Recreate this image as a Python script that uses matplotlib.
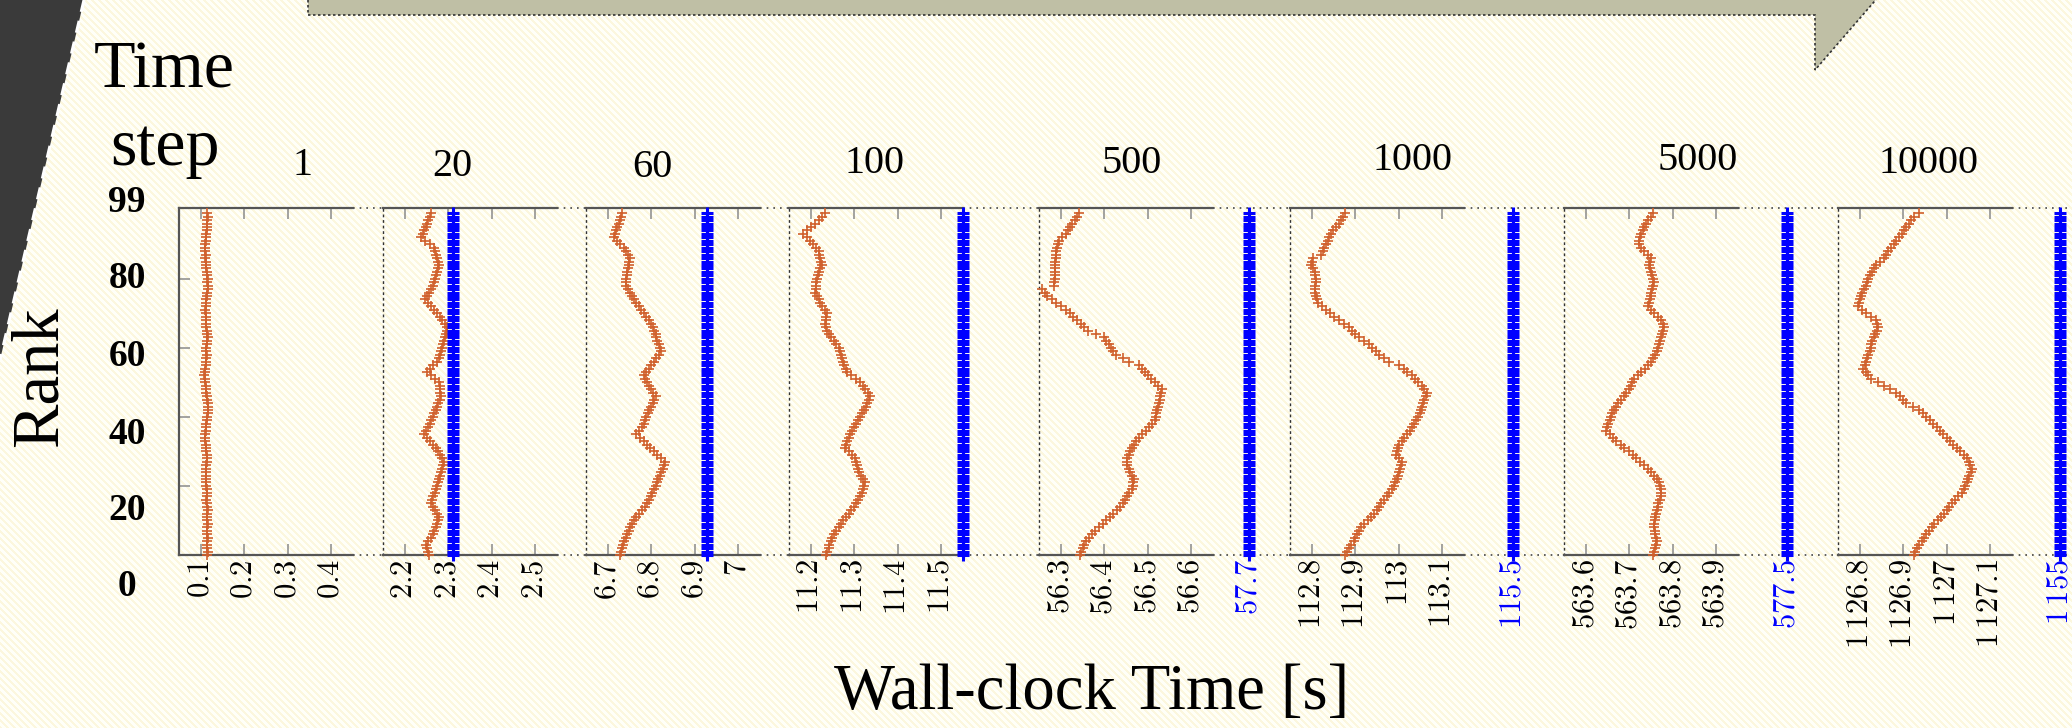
import numpy as np
import matplotlib
matplotlib.use('Agg')
import matplotlib.pyplot as plt
from matplotlib.patches import Polygon

plt.rcParams['mathtext.fontset'] = 'cm'
plt.rcParams['font.family'] = ['Liberation Serif', 'DejaVu Serif']

ranks = np.arange(100)
steps = ['1', '20', '60', '100', '500', '1000', '5000', '10000']

# wall-clock time reached by every rank at the given time step [s]
t_step1 = [0.115, 0.116, 0.115, 0.114, 0.115, 0.116, 0.115, 0.114, 0.115, 0.116,
           0.115, 0.114, 0.115, 0.116, 0.115, 0.114, 0.113, 0.114, 0.115, 0.114,
           0.113, 0.112, 0.113, 0.112, 0.111, 0.112, 0.113, 0.114, 0.115, 0.114,
           0.113, 0.112, 0.111, 0.110, 0.109, 0.110, 0.111, 0.112, 0.113, 0.114,
           0.115, 0.116, 0.116, 0.117, 0.116, 0.115, 0.114, 0.113, 0.112, 0.111,
           0.110, 0.109, 0.108, 0.109, 0.110, 0.111, 0.112, 0.113, 0.114, 0.113,
           0.113, 0.114, 0.115, 0.116, 0.115, 0.114, 0.113, 0.112, 0.111, 0.112,
           0.111, 0.110, 0.111, 0.112, 0.113, 0.114, 0.115, 0.116, 0.116, 0.115,
           0.116, 0.115, 0.114, 0.113, 0.112, 0.111, 0.110, 0.111, 0.110, 0.109,
           0.110, 0.111, 0.112, 0.113, 0.114, 0.115, 0.114, 0.115, 0.116, 0.115]
t_step20 = [2.256, 2.253, 2.251, 2.249, 2.254, 2.260, 2.265, 2.268, 2.271, 2.274,
            2.277, 2.279, 2.274, 2.269, 2.264, 2.260, 2.263, 2.266, 2.269, 2.272,
            2.274, 2.276, 2.279, 2.281, 2.284, 2.286, 2.289, 2.291, 2.286, 2.281,
            2.276, 2.271, 2.264, 2.258, 2.251, 2.245, 2.249, 2.253, 2.257, 2.261,
            2.264, 2.267, 2.271, 2.274, 2.277, 2.280, 2.283, 2.282, 2.281, 2.280,
            2.279, 2.270, 2.261, 2.252, 2.259, 2.266, 2.273, 2.279, 2.281, 2.284,
            2.286, 2.289, 2.291, 2.293, 2.295, 2.296, 2.298, 2.292, 2.286, 2.281,
            2.275, 2.268, 2.261, 2.254, 2.247, 2.251, 2.256, 2.260, 2.264, 2.267,
            2.269, 2.272, 2.274, 2.277, 2.279, 2.277, 2.275, 2.272, 2.270, 2.268,
            2.258, 2.247, 2.237, 2.241, 2.244, 2.248, 2.251, 2.254, 2.257, 2.260]
t_step60 = [6.728, 6.731, 6.733, 6.736, 6.738, 6.741, 6.745, 6.749, 6.752, 6.756,
            6.760, 6.766, 6.772, 6.779, 6.785, 6.791, 6.795, 6.799, 6.802, 6.806,
            6.810, 6.813, 6.816, 6.820, 6.823, 6.826, 6.829, 6.831, 6.823, 6.814,
            6.806, 6.798, 6.791, 6.783, 6.774, 6.766, 6.772, 6.778, 6.783, 6.786,
            6.789, 6.792, 6.795, 6.799, 6.803, 6.806, 6.810, 6.805, 6.800, 6.795,
            6.790, 6.786, 6.783, 6.789, 6.794, 6.800, 6.806, 6.812, 6.817, 6.823,
            6.820, 6.817, 6.814, 6.812, 6.810, 6.807, 6.805, 6.799, 6.794, 6.788,
            6.783, 6.777, 6.771, 6.766, 6.760, 6.755, 6.751, 6.746, 6.742, 6.743,
            6.743, 6.744, 6.745, 6.747, 6.748, 6.750, 6.751, 6.746, 6.742, 6.737,
            6.729, 6.722, 6.714, 6.717, 6.719, 6.722, 6.725, 6.728, 6.730, 6.733]
t_step100 = [11.235, 11.238, 11.241, 11.243, 11.246, 11.249, 11.254, 11.259, 11.265, 11.270,
             11.275, 11.281, 11.287, 11.293, 11.299, 11.304, 11.308, 11.313, 11.318, 11.320,
             11.323, 11.325, 11.321, 11.316, 11.312, 11.308, 11.306, 11.304, 11.302, 11.294,
             11.287, 11.279, 11.281, 11.283, 11.287, 11.291, 11.295, 11.299, 11.304, 11.308,
             11.313, 11.318, 11.322, 11.326, 11.329, 11.333, 11.337, 11.331, 11.325, 11.320,
             11.314, 11.304, 11.293, 11.283, 11.280, 11.277, 11.274, 11.272, 11.269, 11.267,
             11.264, 11.258, 11.253, 11.247, 11.241, 11.238, 11.236, 11.233, 11.234, 11.236,
             11.237, 11.232, 11.227, 11.222, 11.218, 11.214, 11.210, 11.211, 11.212, 11.213,
             11.214, 11.217, 11.220, 11.222, 11.225, 11.223, 11.221, 11.220, 11.218, 11.212,
             11.205, 11.199, 11.191, 11.183, 11.192, 11.201, 11.210, 11.218, 11.225, 11.233]
t_step500 = [56.344, 56.347, 56.350, 56.353, 56.359, 56.366, 56.372, 56.379, 56.388, 56.396,
             56.405, 56.413, 56.421, 56.429, 56.437, 56.442, 56.447, 56.453, 56.458, 56.463,
             56.465, 56.466, 56.468, 56.464, 56.460, 56.457, 56.453, 56.453, 56.453, 56.456,
             56.460, 56.463, 56.468, 56.474, 56.479, 56.487, 56.495, 56.502, 56.509, 56.516,
             56.518, 56.520, 56.522, 56.524, 56.526, 56.528, 56.529, 56.531, 56.532, 56.524,
             56.516, 56.508, 56.500, 56.493, 56.486, 56.479, 56.458, 56.442, 56.426, 56.421,
             56.416, 56.411, 56.405, 56.400, 56.382, 56.363, 56.354, 56.346, 56.337, 56.329,
             56.321, 56.311, 56.300, 56.289, 56.279, 56.268, 56.263, 56.258, 56.284, 56.285,
             56.286, 56.287, 56.287, 56.287, 56.287, 56.287, 56.288, 56.288, 56.289, 56.291,
             56.293, 56.295, 56.303, 56.311, 56.316, 56.321, 56.327, 56.332, 56.337, 56.342]
t_step1000 = [112.877, 112.882, 112.886, 112.891, 112.896, 112.900, 112.905, 112.909, 112.914, 112.921,
              112.929, 112.936, 112.943, 112.949, 112.955, 112.960, 112.966, 112.972, 112.978, 112.984,
              112.988, 112.991, 112.995, 112.998, 113.000, 113.003, 113.005, 113.007, 113.000, 112.993,
              112.996, 112.998, 113.001, 113.007, 113.013, 113.019, 113.025, 113.030, 113.036, 113.040,
              113.044, 113.048, 113.051, 113.054, 113.056, 113.059, 113.062, 113.065, 113.059, 113.053,
              113.045, 113.038, 113.030, 113.020, 113.011, 113.001, 112.978, 112.966, 112.955, 112.947,
              112.939, 112.931, 112.920, 112.908, 112.900, 112.893, 112.885, 112.873, 112.862, 112.852,
              112.843, 112.833, 112.824, 112.815, 112.812, 112.810, 112.807, 112.808, 112.808, 112.809,
              112.809, 112.808, 112.807, 112.803, 112.798, 112.800, 112.803, 112.821, 112.825, 112.829,
              112.833, 112.837, 112.840, 112.844, 112.850, 112.856, 112.862, 112.867, 112.872, 112.877]
t_step5000 = [563.755, 563.757, 563.759, 563.761, 563.763, 563.762, 563.760, 563.759, 563.758, 563.757,
              563.759, 563.760, 563.762, 563.763, 563.765, 563.767, 563.770, 563.772, 563.774, 563.772,
              563.771, 563.769, 563.763, 563.757, 563.749, 563.742, 563.734, 563.725, 563.716, 563.708,
              563.699, 563.689, 563.680, 563.670, 563.662, 563.655, 563.647, 563.650, 563.652, 563.655,
              563.658, 563.661, 563.664, 563.670, 563.675, 563.681, 563.687, 563.693, 563.699, 563.703,
              563.706, 563.710, 563.719, 563.728, 563.736, 563.743, 563.751, 563.755, 563.759, 563.763,
              563.766, 563.769, 563.771, 563.774, 563.776, 563.778, 563.780, 563.777, 563.774, 563.766,
              563.757, 563.750, 563.743, 563.745, 563.747, 563.749, 563.751, 563.753, 563.755, 563.757,
              563.755, 563.753, 563.751, 563.748, 563.745, 563.748, 563.751, 563.743, 563.734, 563.728,
              563.722, 563.723, 563.724, 563.727, 563.731, 563.734, 563.739, 563.743, 563.749, 563.755]
t_step10000 = [1126.924, 1126.928, 1126.932, 1126.936, 1126.942, 1126.947, 1126.953, 1126.959, 1126.965, 1126.971,
               1126.979, 1126.986, 1126.994, 1127.000, 1127.006, 1127.012, 1127.020, 1127.027, 1127.035, 1127.039,
               1127.043, 1127.047, 1127.050, 1127.052, 1127.055, 1127.058, 1127.054, 1127.051, 1127.047, 1127.039,
               1127.031, 1127.023, 1127.015, 1127.008, 1127.000, 1126.992, 1126.985, 1126.977, 1126.969, 1126.961,
               1126.953, 1126.945, 1126.936, 1126.922, 1126.907, 1126.899, 1126.892, 1126.884, 1126.870, 1126.855,
               1126.841, 1126.826, 1126.820, 1126.814, 1126.808, 1126.811, 1126.814, 1126.817, 1126.820, 1126.823,
               1126.825, 1126.827, 1126.828, 1126.832, 1126.836, 1126.839, 1126.843, 1126.840, 1126.837, 1126.826,
               1126.814, 1126.806, 1126.797, 1126.799, 1126.800, 1126.802, 1126.806, 1126.810, 1126.814, 1126.817,
               1126.820, 1126.823, 1126.828, 1126.832, 1126.837, 1126.846, 1126.855, 1126.861, 1126.866, 1126.872,
               1126.878, 1126.884, 1126.890, 1126.896, 1126.901, 1126.907, 1126.913, 1126.918, 1126.924, 1126.936]
rank_time = [t_step1, t_step20, t_step60, t_step100, t_step500, t_step1000, t_step5000, t_step10000]

# slowest time per step (blue), None where it is not drawn
max_time = [None, 2.31, 6.929, 11.55, 57.7, 115.5, 577.5, 1155.0]
max_label = [None, None, None, None, '57.7', '115.5', '577.5', r'1\,155']

xlims = [(0.05, 0.45), (2.15, 2.55), (6.65, 7.05), (11.15, 11.55),
         (56.25, 56.65), (112.75, 113.15), (563.55, 563.95), (1126.75, 1127.15)]
xticks = [[0.1, 0.2, 0.3, 0.4], [2.2, 2.3, 2.4, 2.5], [6.7, 6.8, 6.9, 7.0],
          [11.2, 11.3, 11.4, 11.5], [56.3, 56.4, 56.5, 56.6], [112.8, 112.9, 113.0, 113.1],
          [563.6, 563.7, 563.8, 563.9], [1126.8, 1126.9, 1127.0, 1127.1]]
xticklabels = [['0.1', '0.2', '0.3', '0.4'], ['2.2', '2.3', '2.4', '2.5'],
               ['6.7', '6.8', '6.9', '7'], ['11.2', '11.3', '11.4', '11.5'],
               ['56.3', '56.4', '56.5', '56.6'], ['112.8', '112.9', '113', '113.1'],
               ['563.6', '563.7', '563.8', '563.9'],
               [r'1\,126.8', r'1\,126.9', r'1\,127', r'1\,127.1']]
rank_labels = ['99', '80', '60', '40', '20', '0']

orange = '#d0602c'
blue = '#0000ff'
tick_size = 22

W, H = 2072, 728
fig = plt.figure(figsize=(W / 100, H / 100), dpi=100)


def px(x0, y0, w, h):
    return [x0 / W, 1 - (y0 + h) / H, w / W, h / H]


# slide background: stripes, dark corner band, grey arrow
bg = fig.add_axes([0, 0, 1, 1], zorder=0)
bg.axis('off')
yy, xx = np.mgrid[0:H, 0:W]
stripe = ((xx - yy) % 7) < 3
img = np.where(stripe[..., None], np.array([252, 247, 222]) / 255, np.array([255, 255, 248]) / 255)
bg.imshow(img, extent=(0, W, H, 0), aspect='auto', interpolation='nearest')
bg.add_patch(Polygon([(0, 0), (84, 0), (0, 360)], closed=True, fc='#3a3a3a', ec='none'))
bg.plot([84, 0], [0, 360], color='white', lw=2.2, ls=(0, (4, 3)))
bg.add_patch(Polygon([(308, -5), (308, 15), (1815, 15), (1815, 70), (1880, -5)], closed=True,
                     fc='#bfbfa5', ec='#333333', lw=1.2, ls=(0, (1.5, 1.5))))
bg.set_xlim(0, W)
bg.set_ylim(H, 0)

top, height, width = 208, 347, 174
lefts = [179, 383, 586, 789, 1039, 1290, 1564, 1838]
blue_px = [None, None, None, None, 1249, 1513, 1787, 2060]

# dotted axis line through the breaks between panels
for i in range(len(lefts)):
    x0 = lefts[i] + width
    x1 = lefts[i + 1] if i + 1 < len(lefts) else W
    for y in (top, top + height):
        bg.plot([x0, x1], [y, y], color='#444444', lw=1.2, ls=(0, (1, 3)))

for i in range(len(steps)):
    ax = fig.add_axes(px(lefts[i], top, width, height), zorder=2)
    ax.set_facecolor('none')
    ax.plot(rank_time[i], ranks, ls='none', marker='+', ms=7.5, mew=1.2,
            color=orange, clip_on=False, zorder=3)
    if max_time[i] is not None and max_label[i] is None:
        ax.plot([max_time[i]] * len(ranks), ranks, ls='none', marker='+', ms=9, mew=2.2,
                color=blue, clip_on=False, zorder=4)
    ax.set_xlim(*xlims[i])
    ax.set_ylim(0, 100.5)
    ax.set_xticks(xticks[i])
    ax.set_xticklabels(['$' + s + '$' for s in xticklabels[i]])
    ax.tick_params(axis='x', direction='in', length=8, width=1.1, color='#8a8a8a',
                   top=True, pad=3, labelsize=tick_size, labelrotation=90)
    if i == 0:
        ax.set_yticks([20, 40, 60, 80])
    else:
        ax.set_yticks([])
    ax.tick_params(axis='y', direction='in', length=8, width=1.1, color='#8a8a8a',
                   labelleft=False)
    for s in ('top', 'bottom'):
        ax.spines[s].set_color('#555555')
        ax.spines[s].set_linewidth(1.6)
    ax.spines['right'].set_visible(False)
    if i == 0:
        ax.spines['left'].set_color('#555555')
        ax.spines['left'].set_linewidth(1.6)
    else:
        ax.spines['left'].set_color('#333333')
        ax.spines['left'].set_linewidth(1.0)
        ax.spines['left'].set_linestyle((0, (1, 3)))

    # broken-axis column holding the slowest time
    if max_label[i] is not None:
        v = max_time[i]
        bx = fig.add_axes(px(blue_px[i] - 10, top, 20, height), zorder=2)
        bx.set_facecolor('none')
        bx.plot([v] * len(ranks), ranks, ls='none', marker='+', ms=9, mew=2.2,
                color=blue, clip_on=False)
        bx.set_xlim(v - 0.02, v + 0.02)
        bx.set_ylim(0, 100.5)
        bx.set_xticks([v])
        bx.set_xticklabels(['$' + max_label[i] + '$'])
        bx.tick_params(axis='x', length=0, pad=3, labelsize=tick_size,
                       labelrotation=90, labelcolor=blue)
        bx.set_yticks([])
        for s in bx.spines.values():
            s.set_visible(False)

# headings and axis titles
title_x = [303, 452, 652, 874, 1132, 1412, 1698, 1928]
title_y = [175, 176, 177, 173, 173, 170, 170, 173]
for s, x, y in zip(steps, title_x, title_y):
    bg.text(x, y, s, fontsize=29, ha='center', va='baseline')

bg.text(164, 88, 'Time', fontsize=49, ha='center', va='baseline')
bg.text(165, 165, 'step', fontsize=49, ha='center', va='baseline')

rank_y = [203, 279, 356, 434, 511, 587]
for s, y in zip(rank_labels, rank_y):
    bg.text(127, y, s, fontsize=27, fontweight='bold', ha='center', va='center')

bg.text(40, 377, 'Rank', fontsize=48, rotation=90, ha='center', va='center')
bg.text(1092, 693, 'Wall-clock Time [s]', fontsize=46.5, ha='center', va='center')

fig.savefig('out.png', dpi=100)
